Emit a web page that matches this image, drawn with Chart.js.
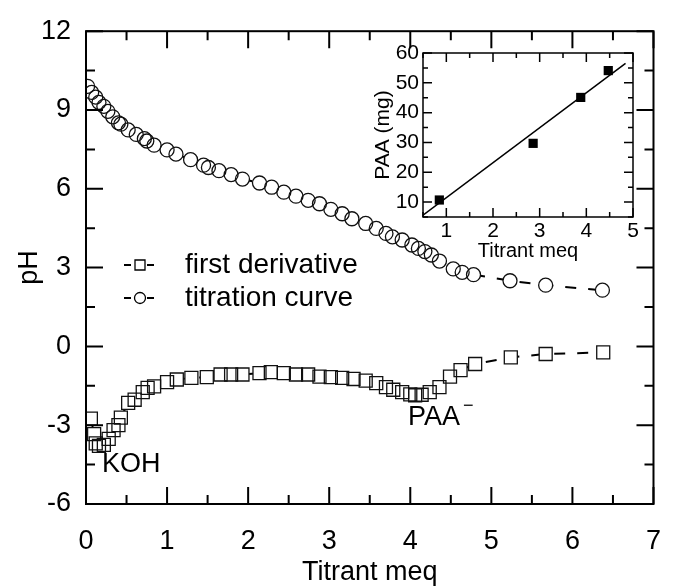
<!DOCTYPE html>
<html>
<head>
<meta charset="utf-8">
<script src="https://cdn.jsdelivr.net/npm/chart.js@4.4.1/dist/chart.umd.min.js"></script>
<style>
  html, body { margin: 0; padding: 0; background: #fff; }
  #wrap { position: relative; width: 682px; height: 587px; overflow: hidden; }
  #main { position: absolute; left: 0; top: 0; }
  #inset { position: absolute; left: 355px; top: 28px; }
</style>
</head>
<body>
<div id="wrap">
  <canvas id="main" width="682" height="587"></canvas>
  <canvas id="inset" width="300" height="240"></canvas>
</div>
<script>
// Titration curve: pH against added titrant
const titrantMeq = [0.02,0.07,0.12,0.16,0.22,0.27,0.33,0.40,0.43,0.52,0.62,0.72,0.75,0.84,1.00,1.11,1.29,1.45,1.51,1.64,1.79,1.93,2.14,2.29,2.44,2.59,2.74,2.88,3.02,3.16,3.28,3.45,3.58,3.70,3.78,3.90,4.02,4.10,4.18,4.26,4.36,4.53,4.64,4.78,5.23,5.67,6.37];
const titrationPH = [9.90,9.67,9.49,9.29,9.14,8.95,8.74,8.51,8.46,8.24,8.07,7.91,7.82,7.66,7.48,7.32,7.11,6.90,6.81,6.69,6.54,6.37,6.22,6.06,5.87,5.72,5.56,5.43,5.22,5.05,4.86,4.68,4.49,4.30,4.17,4.05,3.86,3.73,3.61,3.48,3.25,2.95,2.82,2.73,2.50,2.33,2.14];

// First derivative of the titration curve
const derivMeq = [0.06,0.10,0.12,0.16,0.22,0.28,0.34,0.40,0.43,0.52,0.60,0.70,0.76,0.84,1.00,1.12,1.30,1.49,1.66,1.79,1.93,2.14,2.28,2.44,2.59,2.74,2.88,3.02,3.16,3.30,3.45,3.58,3.70,3.79,3.90,4.00,4.06,4.14,4.24,4.36,4.49,4.62,4.80,5.24,5.67,6.38];
const derivValue = [-2.75,-3.34,-3.69,-3.79,-3.75,-3.52,-3.19,-3.00,-2.71,-2.15,-2.03,-1.74,-1.58,-1.52,-1.36,-1.26,-1.20,-1.17,-1.07,-1.07,-1.07,-1.02,-0.98,-1.02,-1.07,-1.07,-1.15,-1.17,-1.20,-1.24,-1.30,-1.40,-1.55,-1.65,-1.74,-1.83,-1.86,-1.84,-1.74,-1.55,-1.15,-0.90,-0.67,-0.42,-0.29,-0.23];

// Calibration inset: PAA mass against titrant at the end point
const insetMeq = [0.85, 2.86, 3.88, 4.47];
const insetPAA = [10.7, 29.7, 45.1, 54.1];
const fitMeq = [0.5, 4.84];
const fitPAA = [5.6, 56.5];

// Tick values
const mainXTicks = [0, 1, 2, 3, 4, 5, 6, 7];
const mainYTicks = [-6, -3, 0, 3, 6, 9, 12];
const insetXTicks = [1, 2, 3, 4, 5];
const insetYTicks = [10, 20, 30, 40, 50, 60];

const FONT = "'Liberation Sans', Arial, Helvetica, sans-serif";

const toPoints = (xs, ys) => xs.map((x, i) => ({ x, y: ys[i] }));
const titrationPts = toPoints(titrantMeq, titrationPH);
const derivativePts = toPoints(derivMeq, derivValue);

// Each series: dashed connecting line, white masks under the symbols, open outlines on top
function seriesLayers(pts, style, radius) {
  return [
    { data: pts, showLine: false, pointStyle: style, pointRadius: radius, pointHoverRadius: radius,
      pointBackgroundColor: 'rgba(0,0,0,0)', pointBorderColor: '#111', pointBorderWidth: 1.3, order: 0 },
    { data: pts, showLine: false, pointStyle: style, pointRadius: radius, pointHoverRadius: radius,
      pointBackgroundColor: '#fff', pointBorderColor: '#fff', pointBorderWidth: 0, order: 1 },
    { data: pts, showLine: true, borderColor: '#000', borderWidth: 2, borderDash: [11, 12],
      pointRadius: 0, pointHoverRadius: 0, tension: 0, fill: false, order: 2 }
  ];
}

// Boxed frame with inward major/minor ticks on all four sides
function frameTicks(cfg) {
  return {
    id: 'frameTicks',
    afterDatasetsDraw(chart) {
      const { ctx, chartArea: a, scales: { x, y } } = chart;
      ctx.save();
      ctx.strokeStyle = '#000';
      ctx.lineWidth = cfg.lw;
      ctx.beginPath();
      const isMajor = (v, step) => Math.abs(v / step - Math.round(v / step)) < 1e-6;
      for (let v = x.min; v <= x.max + 1e-9; v += cfg.xStep / 2) {
        const L = isMajor(v, cfg.xStep) ? cfg.major : cfg.minor;
        const px = x.getPixelForValue(v);
        ctx.moveTo(px, a.bottom); ctx.lineTo(px, a.bottom - L);
        ctx.moveTo(px, a.top); ctx.lineTo(px, a.top + L);
      }
      for (let v = y.min; v <= y.max + 1e-9; v += cfg.yStep / 2) {
        const L = isMajor(v, cfg.yStep) ? cfg.major : cfg.minor;
        const py = y.getPixelForValue(v);
        ctx.moveTo(a.left, py); ctx.lineTo(a.left + L, py);
        ctx.moveTo(a.right, py); ctx.lineTo(a.right - L, py);
      }
      ctx.stroke();
      ctx.strokeRect(a.left, a.top, a.right - a.left, a.bottom - a.top);
      ctx.restore();
    }
  };
}

// Legend and peak annotations inside the main plot
const mainLabels = {
  id: 'mainLabels',
  afterDraw(chart) {
    const { ctx } = chart;
    ctx.save();
    ctx.fillStyle = '#000';
    ctx.strokeStyle = '#000';
    ctx.textBaseline = 'middle';
    ctx.textAlign = 'left';

    const rows = [
      { y: 265, text: 'first derivative', style: 'square' },
      { y: 298, text: 'titration curve', style: 'circle' }
    ];
    rows.forEach(r => {
      ctx.lineWidth = 2;
      ctx.beginPath();
      ctx.moveTo(124, r.y); ctx.lineTo(131, r.y);
      ctx.moveTo(147, r.y); ctx.lineTo(154, r.y);
      ctx.stroke();
      ctx.lineWidth = 1.3;
      ctx.beginPath();
      if (r.style === 'square') {
        ctx.rect(135, r.y - 5, 10, 10);
      } else {
        ctx.arc(140, r.y, 5.5, 0, Math.PI * 2);
      }
      ctx.stroke();
      ctx.font = '28px ' + FONT;
      ctx.fillText(r.text, 185, r.y);
    });

    ctx.font = '27px ' + FONT;
    ctx.fillText('KOH', 102, 465);
    ctx.fillText('PAA', 408, 418);
    ctx.font = '18px ' + FONT;
    ctx.fillText('\u2212', 463, 406);
    ctx.restore();
  }
};

new Chart(document.getElementById('main'), {
  type: 'scatter',
  data: {
    datasets: [
      ...seriesLayers(titrationPts, 'circle', 7),
      ...seriesLayers(derivativePts, 'rect', 9.2)
    ]
  },
  options: {
    responsive: false,
    devicePixelRatio: 1,
    animation: false,
    events: [],
    layout: { padding: { top: 26, right: 10, left: 0, bottom: 0 } },
    plugins: { legend: { display: false }, tooltip: { enabled: false } },
    scales: {
      x: {
        type: 'linear', min: 0, max: 7, position: 'bottom',
        afterBuildTicks: s => { s.ticks = mainXTicks.map(v => ({ value: v })); },
        afterFit: s => { s.height = 83; },
        grid: { display: false, drawTicks: false },
        border: { display: false },
        ticks: { color: '#000', font: { family: FONT, size: 27 }, padding: 21, maxRotation: 0 },
        title: { display: true, text: 'Titrant meq', color: '#000', font: { family: FONT, size: 27 }, padding: { top: 0, bottom: -2 } }
      },
      y: {
        type: 'linear', min: -6, max: 12, position: 'left',
        afterBuildTicks: s => { s.ticks = mainYTicks.map(v => ({ value: v })); },
        afterFit: s => { s.width = 86; },
        grid: { display: false, drawTicks: false },
        border: { display: false },
        ticks: { color: '#000', font: { family: FONT, size: 27 }, padding: 15 },
        title: { display: true, text: 'pH', color: '#000', font: { family: FONT, size: 27 }, padding: { top: 13, bottom: 0 } }
      }
    }
  },
  plugins: [frameTicks({ lw: 2, major: 17, minor: 9, xStep: 1, yStep: 3 }), mainLabels]
});

new Chart(document.getElementById('inset'), {
  type: 'scatter',
  data: {
    datasets: [
      { data: toPoints(insetMeq, insetPAA), showLine: false, pointStyle: 'rect', pointRadius: 6.5, pointHoverRadius: 6.5,
        pointBackgroundColor: '#000', pointBorderColor: '#000', pointBorderWidth: 0, order: 0 },
      { data: toPoints(fitMeq, fitPAA), showLine: true, borderColor: '#000', borderWidth: 1.5,
        pointRadius: 0, pointHoverRadius: 0, tension: 0, fill: false, order: 1 }
    ]
  },
  options: {
    responsive: false,
    devicePixelRatio: 1,
    animation: false,
    events: [],
    layout: { padding: { top: 25, right: 22, left: 0, bottom: 0 } },
    plugins: { legend: { display: false }, tooltip: { enabled: false } },
    scales: {
      x: {
        type: 'linear', min: 0.5, max: 5, position: 'bottom',
        afterBuildTicks: s => { s.ticks = insetXTicks.map(v => ({ value: v })); },
        afterFit: s => { s.height = 51; },
        grid: { display: false, drawTicks: false },
        border: { display: false },
        ticks: { color: '#000', font: { family: FONT, size: 21 }, padding: 2, maxRotation: 0 },
        title: { display: true, text: 'Titrant meq', color: '#000', font: { family: FONT, size: 20 }, padding: { top: 0, bottom: 5 } }
      },
      y: {
        type: 'linear', min: 5, max: 60, position: 'left',
        afterBuildTicks: s => { s.ticks = insetYTicks.map(v => ({ value: v })); },
        afterFit: s => { s.width = 68; },
        grid: { display: false, drawTicks: false },
        border: { display: false },
        ticks: { color: '#000', font: { family: FONT, size: 21 }, padding: 4 },
        title: { display: true, text: 'PAA (mg)', color: '#000', font: { family: FONT, size: 21 }, padding: { top: 16, bottom: 0 } }
      }
    }
  },
  plugins: [frameTicks({ lw: 1.5, major: 9, minor: 5, xStep: 1, yStep: 10 })]
});
</script>
</body>
</html>
